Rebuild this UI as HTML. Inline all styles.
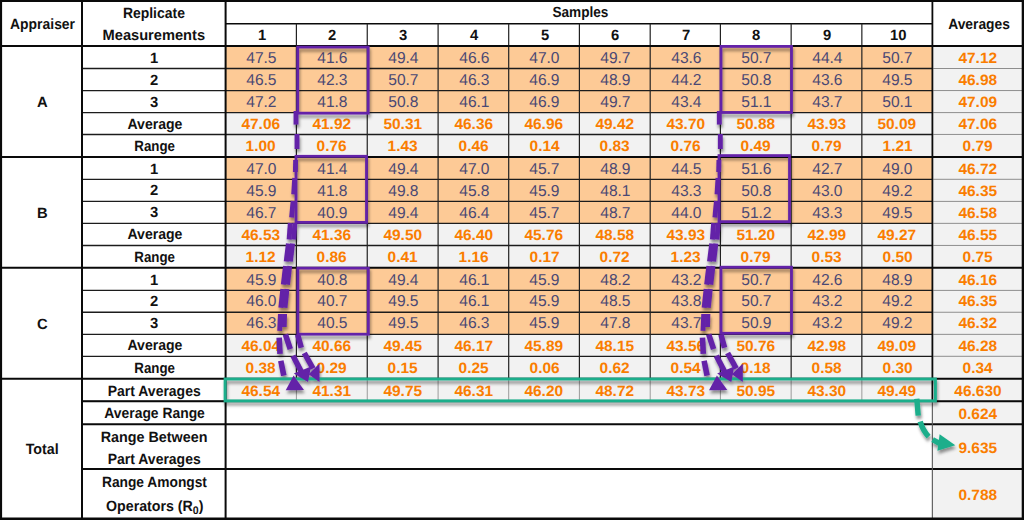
<!DOCTYPE html>
<html><head><meta charset="utf-8"><title>Gage R&amp;R table</title>
<style>
html,body{margin:0;padding:0;background:#fff;}
body{width:1024px;height:520px;position:relative;overflow:hidden;font-family:"Liberation Sans",sans-serif;font-size:14.8px;}
.c{position:absolute;text-align:center;white-space:nowrap;box-sizing:border-box;overflow:visible;}
.h{color:#111;font-weight:bold;}
.c span{display:inline-block;transform:rotate(.03deg);}
.o{background:#fdca96;color:#4a4874;font-size:15.8px;}
.o span{display:inline-block;transform:rotate(.03deg) scaleX(.985);position:relative;left:.6px}
.g{background:#f2f2f2;color:#fa7d00;font-weight:bold;font-size:15.0px;}
.g span{display:inline-block;transform:rotate(.03deg) scaleX(1.03);position:relative;left:.1px}
sub{font-size:11px;vertical-align:baseline;position:relative;top:2.6px;line-height:0;}
svg{position:absolute;left:0;top:0;}
</style></head><body>
<div class="c h" style="left:2px;top:0px;width:81px;height:46px;line-height:48.2px"><span class="s" id="L_appraiser" style="transform:rotate(.03deg) scaleX(0.9404)">Appraiser</span></div>
<div class="c h" style="left:82px;top:0px;width:143.6px;height:25.25px;line-height:27.65px"><span class="s" id="L_replicate" style="transform:rotate(.03deg) scaleX(0.9421)">Replicate</span></div>
<div class="c h" style="left:82px;top:22.25px;width:143.6px;height:23.75px;line-height:27.35px"><span class="s" id="L_measurements" style="transform:rotate(.03deg) scaleX(0.9890)">Measurements</span></div>
<div class="c h" style="left:226.8px;top:0px;width:706.65px;height:23.75px;line-height:24.75px"><span class="s" id="L_samples" style="transform:rotate(.03deg) scaleX(0.9197)">Samples</span></div>
<div class="c h" style="left:226.3px;top:23.75px;width:70.8px;height:22.25px;line-height:22.45px"><span>1</span></div>
<div class="c h" style="left:297.1px;top:23.75px;width:70.85px;height:22.25px;line-height:22.45px"><span>2</span></div>
<div class="c h" style="left:367.95px;top:23.75px;width:70.85px;height:22.25px;line-height:22.45px"><span>3</span></div>
<div class="c h" style="left:438.8px;top:23.75px;width:70.6px;height:22.25px;line-height:22.45px"><span>4</span></div>
<div class="c h" style="left:509.4px;top:23.75px;width:70.7px;height:22.25px;line-height:22.45px"><span>5</span></div>
<div class="c h" style="left:580.1px;top:23.75px;width:70.8px;height:22.25px;line-height:22.45px"><span>6</span></div>
<div class="c h" style="left:650.9px;top:23.75px;width:70.2px;height:22.25px;line-height:22.45px"><span>7</span></div>
<div class="c h" style="left:721.1px;top:23.75px;width:70.75px;height:22.25px;line-height:22.45px"><span>8</span></div>
<div class="c h" style="left:791.85px;top:23.75px;width:70.7px;height:22.25px;line-height:22.45px"><span>9</span></div>
<div class="c h" style="left:862.55px;top:23.75px;width:70.4px;height:22.25px;line-height:22.45px"><span>10</span></div>
<div class="c h" style="left:933.65px;top:0px;width:90.25px;height:46px;line-height:48.2px"><span class="s" id="L_averages" style="transform:rotate(.03deg) scaleX(0.9339)">Averages</span></div>
<div class="c h" style="left:2px;top:46px;width:81px;height:110.9px;line-height:112.7px"><span>A</span></div>
<div class="c h" style="left:82px;top:46px;width:143.6px;height:22.5px;line-height:24.3px"><span>1</span></div>
<div class="c o" style="left:225.6px;top:46px;width:70.8px;height:22.5px;line-height:24.3px"><span>47.5</span></div>
<div class="c o" style="left:296.4px;top:46px;width:70.85px;height:22.5px;line-height:24.3px"><span>41.6</span></div>
<div class="c o" style="left:367.25px;top:46px;width:70.85px;height:22.5px;line-height:24.3px"><span>49.4</span></div>
<div class="c o" style="left:438.1px;top:46px;width:70.6px;height:22.5px;line-height:24.3px"><span>46.6</span></div>
<div class="c o" style="left:508.7px;top:46px;width:70.7px;height:22.5px;line-height:24.3px"><span>47.0</span></div>
<div class="c o" style="left:579.4px;top:46px;width:70.8px;height:22.5px;line-height:24.3px"><span>49.7</span></div>
<div class="c o" style="left:650.2px;top:46px;width:70.2px;height:22.5px;line-height:24.3px"><span>43.6</span></div>
<div class="c o" style="left:720.4px;top:46px;width:70.75px;height:22.5px;line-height:24.3px"><span>50.7</span></div>
<div class="c o" style="left:791.15px;top:46px;width:70.7px;height:22.5px;line-height:24.3px"><span>44.4</span></div>
<div class="c o" style="left:861.85px;top:46px;width:70.4px;height:22.5px;line-height:24.3px"><span>50.7</span></div>
<div class="c g" style="left:932.85px;top:46px;width:90.25px;height:22.5px;line-height:24.3px"><span>47.12</span></div>
<div class="c h" style="left:82px;top:68.5px;width:143.6px;height:22.05px;line-height:23.85px"><span>2</span></div>
<div class="c o" style="left:225.6px;top:68.5px;width:70.8px;height:22.05px;line-height:22.85px"><span>46.5</span></div>
<div class="c o" style="left:296.4px;top:68.5px;width:70.85px;height:22.05px;line-height:22.85px"><span>42.3</span></div>
<div class="c o" style="left:367.25px;top:68.5px;width:70.85px;height:22.05px;line-height:22.85px"><span>50.7</span></div>
<div class="c o" style="left:438.1px;top:68.5px;width:70.6px;height:22.05px;line-height:22.85px"><span>46.3</span></div>
<div class="c o" style="left:508.7px;top:68.5px;width:70.7px;height:22.05px;line-height:22.85px"><span>46.9</span></div>
<div class="c o" style="left:579.4px;top:68.5px;width:70.8px;height:22.05px;line-height:22.85px"><span>48.9</span></div>
<div class="c o" style="left:650.2px;top:68.5px;width:70.2px;height:22.05px;line-height:22.85px"><span>44.2</span></div>
<div class="c o" style="left:720.4px;top:68.5px;width:70.75px;height:22.05px;line-height:22.85px"><span>50.8</span></div>
<div class="c o" style="left:791.15px;top:68.5px;width:70.7px;height:22.05px;line-height:22.85px"><span>43.6</span></div>
<div class="c o" style="left:861.85px;top:68.5px;width:70.4px;height:22.05px;line-height:22.85px"><span>49.5</span></div>
<div class="c g" style="left:932.85px;top:68.5px;width:90.25px;height:22.05px;line-height:22.85px"><span>46.98</span></div>
<div class="c h" style="left:82px;top:90.55px;width:143.6px;height:22.05px;line-height:23.85px"><span>3</span></div>
<div class="c o" style="left:225.6px;top:90.55px;width:70.8px;height:22.05px;line-height:22.85px"><span>47.2</span></div>
<div class="c o" style="left:296.4px;top:90.55px;width:70.85px;height:22.05px;line-height:22.85px"><span>41.8</span></div>
<div class="c o" style="left:367.25px;top:90.55px;width:70.85px;height:22.05px;line-height:22.85px"><span>50.8</span></div>
<div class="c o" style="left:438.1px;top:90.55px;width:70.6px;height:22.05px;line-height:22.85px"><span>46.1</span></div>
<div class="c o" style="left:508.7px;top:90.55px;width:70.7px;height:22.05px;line-height:22.85px"><span>46.9</span></div>
<div class="c o" style="left:579.4px;top:90.55px;width:70.8px;height:22.05px;line-height:22.85px"><span>49.7</span></div>
<div class="c o" style="left:650.2px;top:90.55px;width:70.2px;height:22.05px;line-height:22.85px"><span>43.4</span></div>
<div class="c o" style="left:720.4px;top:90.55px;width:70.75px;height:22.05px;line-height:22.85px"><span>51.1</span></div>
<div class="c o" style="left:791.15px;top:90.55px;width:70.7px;height:22.05px;line-height:22.85px"><span>43.7</span></div>
<div class="c o" style="left:861.85px;top:90.55px;width:70.4px;height:22.05px;line-height:22.85px"><span>50.1</span></div>
<div class="c g" style="left:932.85px;top:90.55px;width:90.25px;height:22.05px;line-height:22.85px"><span>47.09</span></div>
<div class="c h" style="left:82.8px;top:112.6px;width:143.6px;height:21.85px;line-height:23.65px"><span class="s" id="L_average" style="transform:rotate(.03deg) scaleX(0.9504)">Average</span></div>
<div class="c g" style="left:225.6px;top:112.6px;width:70.8px;height:21.85px;line-height:22.65px"><span>47.06</span></div>
<div class="c g" style="left:296.4px;top:112.6px;width:70.85px;height:21.85px;line-height:22.65px"><span>41.92</span></div>
<div class="c g" style="left:367.25px;top:112.6px;width:70.85px;height:21.85px;line-height:22.65px"><span>50.31</span></div>
<div class="c g" style="left:438.1px;top:112.6px;width:70.6px;height:21.85px;line-height:22.65px"><span>46.36</span></div>
<div class="c g" style="left:508.7px;top:112.6px;width:70.7px;height:21.85px;line-height:22.65px"><span>46.96</span></div>
<div class="c g" style="left:579.4px;top:112.6px;width:70.8px;height:21.85px;line-height:22.65px"><span>49.42</span></div>
<div class="c g" style="left:650.2px;top:112.6px;width:70.2px;height:21.85px;line-height:22.65px"><span>43.70</span></div>
<div class="c g" style="left:720.4px;top:112.6px;width:70.75px;height:21.85px;line-height:22.65px"><span>50.88</span></div>
<div class="c g" style="left:791.15px;top:112.6px;width:70.7px;height:21.85px;line-height:22.65px"><span>43.93</span></div>
<div class="c g" style="left:861.85px;top:112.6px;width:70.4px;height:21.85px;line-height:22.65px"><span>50.09</span></div>
<div class="c g" style="left:932.85px;top:112.6px;width:90.25px;height:21.85px;line-height:22.65px"><span>47.06</span></div>
<div class="c h" style="left:82.8px;top:134.45px;width:143.6px;height:22.45px;line-height:24.25px"><span class="s" id="L_range" style="transform:rotate(.03deg) scaleX(0.8995)">Range</span></div>
<div class="c g" style="left:225.6px;top:134.45px;width:70.8px;height:22.45px;line-height:24.25px"><span>1.00</span></div>
<div class="c g" style="left:296.4px;top:134.45px;width:70.85px;height:22.45px;line-height:24.25px"><span>0.76</span></div>
<div class="c g" style="left:367.25px;top:134.45px;width:70.85px;height:22.45px;line-height:24.25px"><span>1.43</span></div>
<div class="c g" style="left:438.1px;top:134.45px;width:70.6px;height:22.45px;line-height:24.25px"><span>0.46</span></div>
<div class="c g" style="left:508.7px;top:134.45px;width:70.7px;height:22.45px;line-height:24.25px"><span>0.14</span></div>
<div class="c g" style="left:579.4px;top:134.45px;width:70.8px;height:22.45px;line-height:24.25px"><span>0.83</span></div>
<div class="c g" style="left:650.2px;top:134.45px;width:70.2px;height:22.45px;line-height:24.25px"><span>0.76</span></div>
<div class="c g" style="left:720.4px;top:134.45px;width:70.75px;height:22.45px;line-height:24.25px"><span>0.49</span></div>
<div class="c g" style="left:791.15px;top:134.45px;width:70.7px;height:22.45px;line-height:24.25px"><span>0.79</span></div>
<div class="c g" style="left:861.85px;top:134.45px;width:70.4px;height:22.45px;line-height:24.25px"><span>1.21</span></div>
<div class="c g" style="left:932.85px;top:134.45px;width:90.25px;height:22.45px;line-height:24.25px"><span>0.79</span></div>
<div class="c h" style="left:2px;top:156.9px;width:81px;height:110.9px;line-height:112.7px"><span>B</span></div>
<div class="c h" style="left:82px;top:156.9px;width:143.6px;height:22.4px;line-height:24.2px"><span>1</span></div>
<div class="c o" style="left:225.6px;top:156.9px;width:70.8px;height:22.4px;line-height:24.2px"><span>47.0</span></div>
<div class="c o" style="left:296.4px;top:156.9px;width:70.85px;height:22.4px;line-height:24.2px"><span>41.4</span></div>
<div class="c o" style="left:367.25px;top:156.9px;width:70.85px;height:22.4px;line-height:24.2px"><span>49.4</span></div>
<div class="c o" style="left:438.1px;top:156.9px;width:70.6px;height:22.4px;line-height:24.2px"><span>47.0</span></div>
<div class="c o" style="left:508.7px;top:156.9px;width:70.7px;height:22.4px;line-height:24.2px"><span>45.7</span></div>
<div class="c o" style="left:579.4px;top:156.9px;width:70.8px;height:22.4px;line-height:24.2px"><span>48.9</span></div>
<div class="c o" style="left:650.2px;top:156.9px;width:70.2px;height:22.4px;line-height:24.2px"><span>44.5</span></div>
<div class="c o" style="left:720.4px;top:156.9px;width:70.75px;height:22.4px;line-height:24.2px"><span>51.6</span></div>
<div class="c o" style="left:791.15px;top:156.9px;width:70.7px;height:22.4px;line-height:24.2px"><span>42.7</span></div>
<div class="c o" style="left:861.85px;top:156.9px;width:70.4px;height:22.4px;line-height:24.2px"><span>49.0</span></div>
<div class="c g" style="left:932.85px;top:156.9px;width:90.25px;height:22.4px;line-height:24.2px"><span>46.72</span></div>
<div class="c h" style="left:82px;top:179.3px;width:143.6px;height:22.1px;line-height:23.9px"><span>2</span></div>
<div class="c o" style="left:225.6px;top:179.3px;width:70.8px;height:22.1px;line-height:23.9px"><span>45.9</span></div>
<div class="c o" style="left:296.4px;top:179.3px;width:70.85px;height:22.1px;line-height:23.9px"><span>41.8</span></div>
<div class="c o" style="left:367.25px;top:179.3px;width:70.85px;height:22.1px;line-height:23.9px"><span>49.8</span></div>
<div class="c o" style="left:438.1px;top:179.3px;width:70.6px;height:22.1px;line-height:23.9px"><span>45.8</span></div>
<div class="c o" style="left:508.7px;top:179.3px;width:70.7px;height:22.1px;line-height:23.9px"><span>45.9</span></div>
<div class="c o" style="left:579.4px;top:179.3px;width:70.8px;height:22.1px;line-height:23.9px"><span>48.1</span></div>
<div class="c o" style="left:650.2px;top:179.3px;width:70.2px;height:22.1px;line-height:23.9px"><span>43.3</span></div>
<div class="c o" style="left:720.4px;top:179.3px;width:70.75px;height:22.1px;line-height:23.9px"><span>50.8</span></div>
<div class="c o" style="left:791.15px;top:179.3px;width:70.7px;height:22.1px;line-height:23.9px"><span>43.0</span></div>
<div class="c o" style="left:861.85px;top:179.3px;width:70.4px;height:22.1px;line-height:23.9px"><span>49.2</span></div>
<div class="c g" style="left:932.85px;top:179.3px;width:90.25px;height:22.1px;line-height:23.9px"><span>46.35</span></div>
<div class="c h" style="left:82px;top:201.4px;width:143.6px;height:21.95px;line-height:23.75px"><span>3</span></div>
<div class="c o" style="left:225.6px;top:201.4px;width:70.8px;height:21.95px;line-height:23.75px"><span>46.7</span></div>
<div class="c o" style="left:296.4px;top:201.4px;width:70.85px;height:21.95px;line-height:23.75px"><span>40.9</span></div>
<div class="c o" style="left:367.25px;top:201.4px;width:70.85px;height:21.95px;line-height:23.75px"><span>49.4</span></div>
<div class="c o" style="left:438.1px;top:201.4px;width:70.6px;height:21.95px;line-height:23.75px"><span>46.4</span></div>
<div class="c o" style="left:508.7px;top:201.4px;width:70.7px;height:21.95px;line-height:23.75px"><span>45.7</span></div>
<div class="c o" style="left:579.4px;top:201.4px;width:70.8px;height:21.95px;line-height:23.75px"><span>48.7</span></div>
<div class="c o" style="left:650.2px;top:201.4px;width:70.2px;height:21.95px;line-height:23.75px"><span>44.0</span></div>
<div class="c o" style="left:720.4px;top:201.4px;width:70.75px;height:21.95px;line-height:23.75px"><span>51.2</span></div>
<div class="c o" style="left:791.15px;top:201.4px;width:70.7px;height:21.95px;line-height:23.75px"><span>43.3</span></div>
<div class="c o" style="left:861.85px;top:201.4px;width:70.4px;height:21.95px;line-height:23.75px"><span>49.5</span></div>
<div class="c g" style="left:932.85px;top:201.4px;width:90.25px;height:21.95px;line-height:23.75px"><span>46.58</span></div>
<div class="c h" style="left:82.8px;top:223.35px;width:143.6px;height:22.1px;line-height:23.9px"><span class="s" id="L_average" style="transform:rotate(.03deg) scaleX(0.9504)">Average</span></div>
<div class="c g" style="left:225.6px;top:223.35px;width:70.8px;height:22.1px;line-height:23.9px"><span>46.53</span></div>
<div class="c g" style="left:296.4px;top:223.35px;width:70.85px;height:22.1px;line-height:23.9px"><span>41.36</span></div>
<div class="c g" style="left:367.25px;top:223.35px;width:70.85px;height:22.1px;line-height:23.9px"><span>49.50</span></div>
<div class="c g" style="left:438.1px;top:223.35px;width:70.6px;height:22.1px;line-height:23.9px"><span>46.40</span></div>
<div class="c g" style="left:508.7px;top:223.35px;width:70.7px;height:22.1px;line-height:23.9px"><span>45.76</span></div>
<div class="c g" style="left:579.4px;top:223.35px;width:70.8px;height:22.1px;line-height:23.9px"><span>48.58</span></div>
<div class="c g" style="left:650.2px;top:223.35px;width:70.2px;height:22.1px;line-height:23.9px"><span>43.93</span></div>
<div class="c g" style="left:720.4px;top:223.35px;width:70.75px;height:22.1px;line-height:23.9px"><span>51.20</span></div>
<div class="c g" style="left:791.15px;top:223.35px;width:70.7px;height:22.1px;line-height:23.9px"><span>42.99</span></div>
<div class="c g" style="left:861.85px;top:223.35px;width:70.4px;height:22.1px;line-height:23.9px"><span>49.27</span></div>
<div class="c g" style="left:932.85px;top:223.35px;width:90.25px;height:22.1px;line-height:23.9px"><span>46.55</span></div>
<div class="c h" style="left:82.8px;top:245.45px;width:143.6px;height:22.35px;line-height:24.15px"><span class="s" id="L_range" style="transform:rotate(.03deg) scaleX(0.8995)">Range</span></div>
<div class="c g" style="left:225.6px;top:245.45px;width:70.8px;height:22.35px;line-height:24.15px"><span>1.12</span></div>
<div class="c g" style="left:296.4px;top:245.45px;width:70.85px;height:22.35px;line-height:24.15px"><span>0.86</span></div>
<div class="c g" style="left:367.25px;top:245.45px;width:70.85px;height:22.35px;line-height:24.15px"><span>0.41</span></div>
<div class="c g" style="left:438.1px;top:245.45px;width:70.6px;height:22.35px;line-height:24.15px"><span>1.16</span></div>
<div class="c g" style="left:508.7px;top:245.45px;width:70.7px;height:22.35px;line-height:24.15px"><span>0.17</span></div>
<div class="c g" style="left:579.4px;top:245.45px;width:70.8px;height:22.35px;line-height:24.15px"><span>0.72</span></div>
<div class="c g" style="left:650.2px;top:245.45px;width:70.2px;height:22.35px;line-height:24.15px"><span>1.23</span></div>
<div class="c g" style="left:720.4px;top:245.45px;width:70.75px;height:22.35px;line-height:24.15px"><span>0.79</span></div>
<div class="c g" style="left:791.15px;top:245.45px;width:70.7px;height:22.35px;line-height:24.15px"><span>0.53</span></div>
<div class="c g" style="left:861.85px;top:245.45px;width:70.4px;height:22.35px;line-height:24.15px"><span>0.50</span></div>
<div class="c g" style="left:932.85px;top:245.45px;width:90.25px;height:22.35px;line-height:24.15px"><span>0.75</span></div>
<div class="c h" style="left:2px;top:267.8px;width:81px;height:111px;line-height:112.8px"><span>C</span></div>
<div class="c h" style="left:82px;top:267.8px;width:143.6px;height:22.6px;line-height:24.4px"><span>1</span></div>
<div class="c o" style="left:225.6px;top:267.8px;width:70.8px;height:22.6px;line-height:24.4px"><span>45.9</span></div>
<div class="c o" style="left:296.4px;top:267.8px;width:70.85px;height:22.6px;line-height:24.4px"><span>40.8</span></div>
<div class="c o" style="left:367.25px;top:267.8px;width:70.85px;height:22.6px;line-height:24.4px"><span>49.4</span></div>
<div class="c o" style="left:438.1px;top:267.8px;width:70.6px;height:22.6px;line-height:24.4px"><span>46.1</span></div>
<div class="c o" style="left:508.7px;top:267.8px;width:70.7px;height:22.6px;line-height:24.4px"><span>45.9</span></div>
<div class="c o" style="left:579.4px;top:267.8px;width:70.8px;height:22.6px;line-height:24.4px"><span>48.2</span></div>
<div class="c o" style="left:650.2px;top:267.8px;width:70.2px;height:22.6px;line-height:24.4px"><span>43.2</span></div>
<div class="c o" style="left:720.4px;top:267.8px;width:70.75px;height:22.6px;line-height:24.4px"><span>50.7</span></div>
<div class="c o" style="left:791.15px;top:267.8px;width:70.7px;height:22.6px;line-height:24.4px"><span>42.6</span></div>
<div class="c o" style="left:861.85px;top:267.8px;width:70.4px;height:22.6px;line-height:24.4px"><span>48.9</span></div>
<div class="c g" style="left:932.85px;top:267.8px;width:90.25px;height:22.6px;line-height:24.4px"><span>46.16</span></div>
<div class="c h" style="left:82px;top:290.4px;width:143.6px;height:21.85px;line-height:23.65px"><span>2</span></div>
<div class="c o" style="left:225.6px;top:290.4px;width:70.8px;height:21.85px;line-height:22.65px"><span>46.0</span></div>
<div class="c o" style="left:296.4px;top:290.4px;width:70.85px;height:21.85px;line-height:22.65px"><span>40.7</span></div>
<div class="c o" style="left:367.25px;top:290.4px;width:70.85px;height:21.85px;line-height:22.65px"><span>49.5</span></div>
<div class="c o" style="left:438.1px;top:290.4px;width:70.6px;height:21.85px;line-height:22.65px"><span>46.1</span></div>
<div class="c o" style="left:508.7px;top:290.4px;width:70.7px;height:21.85px;line-height:22.65px"><span>45.9</span></div>
<div class="c o" style="left:579.4px;top:290.4px;width:70.8px;height:21.85px;line-height:22.65px"><span>48.5</span></div>
<div class="c o" style="left:650.2px;top:290.4px;width:70.2px;height:21.85px;line-height:22.65px"><span>43.8</span></div>
<div class="c o" style="left:720.4px;top:290.4px;width:70.75px;height:21.85px;line-height:22.65px"><span>50.7</span></div>
<div class="c o" style="left:791.15px;top:290.4px;width:70.7px;height:21.85px;line-height:22.65px"><span>43.2</span></div>
<div class="c o" style="left:861.85px;top:290.4px;width:70.4px;height:21.85px;line-height:22.65px"><span>49.2</span></div>
<div class="c g" style="left:932.85px;top:290.4px;width:90.25px;height:21.85px;line-height:22.65px"><span>46.35</span></div>
<div class="c h" style="left:82px;top:312.25px;width:143.6px;height:22.1px;line-height:23.9px"><span>3</span></div>
<div class="c o" style="left:225.6px;top:312.25px;width:70.8px;height:22.1px;line-height:22.9px"><span>46.3</span></div>
<div class="c o" style="left:296.4px;top:312.25px;width:70.85px;height:22.1px;line-height:22.9px"><span>40.5</span></div>
<div class="c o" style="left:367.25px;top:312.25px;width:70.85px;height:22.1px;line-height:22.9px"><span>49.5</span></div>
<div class="c o" style="left:438.1px;top:312.25px;width:70.6px;height:22.1px;line-height:22.9px"><span>46.3</span></div>
<div class="c o" style="left:508.7px;top:312.25px;width:70.7px;height:22.1px;line-height:22.9px"><span>45.9</span></div>
<div class="c o" style="left:579.4px;top:312.25px;width:70.8px;height:22.1px;line-height:22.9px"><span>47.8</span></div>
<div class="c o" style="left:650.2px;top:312.25px;width:70.2px;height:22.1px;line-height:22.9px"><span>43.7</span></div>
<div class="c o" style="left:720.4px;top:312.25px;width:70.75px;height:22.1px;line-height:22.9px"><span>50.9</span></div>
<div class="c o" style="left:791.15px;top:312.25px;width:70.7px;height:22.1px;line-height:22.9px"><span>43.2</span></div>
<div class="c o" style="left:861.85px;top:312.25px;width:70.4px;height:22.1px;line-height:22.9px"><span>49.2</span></div>
<div class="c g" style="left:932.85px;top:312.25px;width:90.25px;height:22.1px;line-height:22.9px"><span>46.32</span></div>
<div class="c h" style="left:82.8px;top:334.35px;width:143.6px;height:21.95px;line-height:23.75px"><span class="s" id="L_average" style="transform:rotate(.03deg) scaleX(0.9504)">Average</span></div>
<div class="c g" style="left:225.6px;top:334.35px;width:70.8px;height:21.95px;line-height:23.75px"><span>46.04</span></div>
<div class="c g" style="left:296.4px;top:334.35px;width:70.85px;height:21.95px;line-height:23.75px"><span>40.66</span></div>
<div class="c g" style="left:367.25px;top:334.35px;width:70.85px;height:21.95px;line-height:23.75px"><span>49.45</span></div>
<div class="c g" style="left:438.1px;top:334.35px;width:70.6px;height:21.95px;line-height:23.75px"><span>46.17</span></div>
<div class="c g" style="left:508.7px;top:334.35px;width:70.7px;height:21.95px;line-height:23.75px"><span>45.89</span></div>
<div class="c g" style="left:579.4px;top:334.35px;width:70.8px;height:21.95px;line-height:23.75px"><span>48.15</span></div>
<div class="c g" style="left:650.2px;top:334.35px;width:70.2px;height:21.95px;line-height:23.75px"><span>43.56</span></div>
<div class="c g" style="left:720.4px;top:334.35px;width:70.75px;height:21.95px;line-height:23.75px"><span>50.76</span></div>
<div class="c g" style="left:791.15px;top:334.35px;width:70.7px;height:21.95px;line-height:23.75px"><span>42.98</span></div>
<div class="c g" style="left:861.85px;top:334.35px;width:70.4px;height:21.95px;line-height:23.75px"><span>49.09</span></div>
<div class="c g" style="left:932.85px;top:334.35px;width:90.25px;height:21.95px;line-height:23.75px"><span>46.28</span></div>
<div class="c h" style="left:82.8px;top:356.3px;width:143.6px;height:22.5px;line-height:24.3px"><span class="s" id="L_range" style="transform:rotate(.03deg) scaleX(0.8995)">Range</span></div>
<div class="c g" style="left:225.6px;top:356.3px;width:70.8px;height:22.5px;line-height:24.3px"><span>0.38</span></div>
<div class="c g" style="left:296.4px;top:356.3px;width:70.85px;height:22.5px;line-height:24.3px"><span>0.29</span></div>
<div class="c g" style="left:367.25px;top:356.3px;width:70.85px;height:22.5px;line-height:24.3px"><span>0.15</span></div>
<div class="c g" style="left:438.1px;top:356.3px;width:70.6px;height:22.5px;line-height:24.3px"><span>0.25</span></div>
<div class="c g" style="left:508.7px;top:356.3px;width:70.7px;height:22.5px;line-height:24.3px"><span>0.06</span></div>
<div class="c g" style="left:579.4px;top:356.3px;width:70.8px;height:22.5px;line-height:24.3px"><span>0.62</span></div>
<div class="c g" style="left:650.2px;top:356.3px;width:70.2px;height:22.5px;line-height:24.3px"><span>0.54</span></div>
<div class="c g" style="left:720.4px;top:356.3px;width:70.75px;height:22.5px;line-height:24.3px"><span>0.18</span></div>
<div class="c g" style="left:791.15px;top:356.3px;width:70.7px;height:22.5px;line-height:24.3px"><span>0.58</span></div>
<div class="c g" style="left:861.85px;top:356.3px;width:70.4px;height:22.5px;line-height:24.3px"><span>0.30</span></div>
<div class="c g" style="left:932.85px;top:356.3px;width:90.25px;height:22.5px;line-height:24.3px"><span>0.34</span></div>
<div class="c h" style="left:2px;top:378.8px;width:81px;height:139.7px;line-height:141.5px"><span class="s" id="L_total" style="transform:rotate(.03deg) scaleX(0.9614)">Total</span></div>
<div class="c h" style="left:82.7px;top:378.8px;width:143.6px;height:22.5px;line-height:24.1px"><span class="s" id="L_partavg" style="transform:rotate(.03deg) scaleX(0.9446)">Part Averages</span></div>
<div class="c g" style="left:225.6px;top:378.8px;width:70.8px;height:22.5px;line-height:23.3px"><span>46.54</span></div>
<div class="c g" style="left:296.4px;top:378.8px;width:70.85px;height:22.5px;line-height:23.3px"><span>41.31</span></div>
<div class="c g" style="left:367.25px;top:378.8px;width:70.85px;height:22.5px;line-height:23.3px"><span>49.75</span></div>
<div class="c g" style="left:438.1px;top:378.8px;width:70.6px;height:22.5px;line-height:23.3px"><span>46.31</span></div>
<div class="c g" style="left:508.7px;top:378.8px;width:70.7px;height:22.5px;line-height:23.3px"><span>46.20</span></div>
<div class="c g" style="left:579.4px;top:378.8px;width:70.8px;height:22.5px;line-height:23.3px"><span>48.72</span></div>
<div class="c g" style="left:650.2px;top:378.8px;width:70.2px;height:22.5px;line-height:23.3px"><span>43.73</span></div>
<div class="c g" style="left:720.4px;top:378.8px;width:70.75px;height:22.5px;line-height:23.3px"><span>50.95</span></div>
<div class="c g" style="left:791.15px;top:378.8px;width:70.7px;height:22.5px;line-height:23.3px"><span>43.30</span></div>
<div class="c g" style="left:861.85px;top:378.8px;width:70.4px;height:22.5px;line-height:23.3px"><span>49.49</span></div>
<div class="c g" style="left:932.25px;top:378.8px;width:90.25px;height:22.5px;line-height:23.3px"><span>46.630</span></div>
<div class="c h" style="left:82.8px;top:401.3px;width:143.6px;height:22.95px;line-height:25.35px"><span class="s" id="L_avgrange" style="transform:rotate(.03deg) scaleX(0.9375)">Average Range</span></div>
<div class="c g" style="left:932.85px;top:401.3px;width:90.25px;height:22.95px;line-height:25.55px"><span>0.624</span></div>
<div class="c h" style="left:82.4px;top:424.45px;width:143.6px;height:23px;line-height:26.4px"><span class="s" id="L_rangebetween" style="transform:rotate(.03deg) scaleX(0.9687)">Range Between</span></div>
<div class="c h" style="left:82.7px;top:446.95px;width:143.6px;height:21.25px;line-height:25.05px"><span class="s" id="L_partavg2" style="transform:rotate(.03deg) scaleX(0.9446)">Part Averages</span></div>
<div class="c g" style="left:932.85px;top:424.25px;width:90.25px;height:44.75px;line-height:47.15px"><span>9.635</span></div>
<div class="c h" style="left:82.5px;top:469.2px;width:143.6px;height:23px;line-height:26.2px"><span class="s" id="L_rangeamongst" style="transform:rotate(.03deg) scaleX(0.9299)">Range Amongst</span></div>
<div class="c h" style="left:82.8px;top:493px;width:143.6px;height:24.5px;line-height:26.9px"><span class="s" id="L_operators" style="transform:rotate(.03deg) scaleX(0.9603)">Operators (R<sub>0</sub>)</span></div>
<div class="c g" style="left:932.85px;top:469px;width:90.25px;height:49.5px;line-height:51.5px"><span>0.788</span></div>
<svg width="1024" height="520" viewBox="0 0 1024 520">
<line x1="82" y1="68.5" x2="932.25" y2="68.5" stroke="#1c1c1c" stroke-width="1.35"/>
<line x1="933.25" y1="68.5" x2="1022.5" y2="68.5" stroke="#8e8e8e" stroke-width="1"/>
<line x1="82" y1="90.55" x2="932.25" y2="90.55" stroke="#1c1c1c" stroke-width="1.35"/>
<line x1="933.25" y1="90.55" x2="1022.5" y2="90.55" stroke="#8e8e8e" stroke-width="1"/>
<line x1="82" y1="112.6" x2="932.25" y2="112.6" stroke="#1c1c1c" stroke-width="1.35"/>
<line x1="933.25" y1="112.6" x2="1022.5" y2="112.6" stroke="#8e8e8e" stroke-width="1"/>
<line x1="82" y1="134.45" x2="932.25" y2="134.45" stroke="#1c1c1c" stroke-width="1.35"/>
<line x1="933.25" y1="134.45" x2="1022.5" y2="134.45" stroke="#8e8e8e" stroke-width="1"/>
<line x1="82" y1="179.3" x2="932.25" y2="179.3" stroke="#1c1c1c" stroke-width="1.35"/>
<line x1="933.25" y1="179.3" x2="1022.5" y2="179.3" stroke="#8e8e8e" stroke-width="1"/>
<line x1="82" y1="201.4" x2="932.25" y2="201.4" stroke="#1c1c1c" stroke-width="1.35"/>
<line x1="933.25" y1="201.4" x2="1022.5" y2="201.4" stroke="#8e8e8e" stroke-width="1"/>
<line x1="82" y1="223.35" x2="932.25" y2="223.35" stroke="#1c1c1c" stroke-width="1.35"/>
<line x1="933.25" y1="223.35" x2="1022.5" y2="223.35" stroke="#8e8e8e" stroke-width="1"/>
<line x1="82" y1="245.45" x2="932.25" y2="245.45" stroke="#1c1c1c" stroke-width="1.35"/>
<line x1="933.25" y1="245.45" x2="1022.5" y2="245.45" stroke="#8e8e8e" stroke-width="1"/>
<line x1="82" y1="290.4" x2="932.25" y2="290.4" stroke="#1c1c1c" stroke-width="1.35"/>
<line x1="933.25" y1="290.4" x2="1022.5" y2="290.4" stroke="#8e8e8e" stroke-width="1"/>
<line x1="82" y1="312.25" x2="932.25" y2="312.25" stroke="#1c1c1c" stroke-width="1.35"/>
<line x1="933.25" y1="312.25" x2="1022.5" y2="312.25" stroke="#8e8e8e" stroke-width="1"/>
<line x1="82" y1="334.35" x2="932.25" y2="334.35" stroke="#1c1c1c" stroke-width="1.35"/>
<line x1="933.25" y1="334.35" x2="1022.5" y2="334.35" stroke="#8e8e8e" stroke-width="1"/>
<line x1="82" y1="356.3" x2="932.25" y2="356.3" stroke="#1c1c1c" stroke-width="1.35"/>
<line x1="933.25" y1="356.3" x2="1022.5" y2="356.3" stroke="#8e8e8e" stroke-width="1"/>
<line x1="82" y1="401.3" x2="932.25" y2="401.3" stroke="#1c1c1c" stroke-width="1.35"/>
<line x1="933.25" y1="401.3" x2="1022.5" y2="401.3" stroke="#8e8e8e" stroke-width="1"/>
<line x1="82" y1="401.3" x2="1022.5" y2="401.3" stroke="#0a0a0a" stroke-width="1.9"/>
<line x1="82" y1="424.25" x2="1022.5" y2="424.25" stroke="#0a0a0a" stroke-width="1.9"/>
<line x1="82" y1="469" x2="1022.5" y2="469" stroke="#0a0a0a" stroke-width="1.9"/>
<line x1="225.6" y1="23.75" x2="932.25" y2="23.75" stroke="#0a0a0a" stroke-width="1.4"/>
<line x1="296.4" y1="23.75" x2="296.4" y2="378.8" stroke="#222" stroke-width="1.2"/>
<line x1="296.4" y1="378.8" x2="296.4" y2="401.3" stroke="#9a9a9a" stroke-width="1"/>
<line x1="367.25" y1="23.75" x2="367.25" y2="378.8" stroke="#222" stroke-width="1.2"/>
<line x1="367.25" y1="378.8" x2="367.25" y2="401.3" stroke="#9a9a9a" stroke-width="1"/>
<line x1="438.1" y1="23.75" x2="438.1" y2="378.8" stroke="#222" stroke-width="1.2"/>
<line x1="438.1" y1="378.8" x2="438.1" y2="401.3" stroke="#9a9a9a" stroke-width="1"/>
<line x1="508.7" y1="23.75" x2="508.7" y2="378.8" stroke="#222" stroke-width="1.2"/>
<line x1="508.7" y1="378.8" x2="508.7" y2="401.3" stroke="#9a9a9a" stroke-width="1"/>
<line x1="579.4" y1="23.75" x2="579.4" y2="378.8" stroke="#222" stroke-width="1.2"/>
<line x1="579.4" y1="378.8" x2="579.4" y2="401.3" stroke="#9a9a9a" stroke-width="1"/>
<line x1="650.2" y1="23.75" x2="650.2" y2="378.8" stroke="#222" stroke-width="1.2"/>
<line x1="650.2" y1="378.8" x2="650.2" y2="401.3" stroke="#9a9a9a" stroke-width="1"/>
<line x1="720.4" y1="23.75" x2="720.4" y2="378.8" stroke="#222" stroke-width="1.2"/>
<line x1="720.4" y1="378.8" x2="720.4" y2="401.3" stroke="#9a9a9a" stroke-width="1"/>
<line x1="791.15" y1="23.75" x2="791.15" y2="378.8" stroke="#222" stroke-width="1.2"/>
<line x1="791.15" y1="378.8" x2="791.15" y2="401.3" stroke="#9a9a9a" stroke-width="1"/>
<line x1="861.85" y1="23.75" x2="861.85" y2="378.8" stroke="#222" stroke-width="1.2"/>
<line x1="861.85" y1="378.8" x2="861.85" y2="401.3" stroke="#9a9a9a" stroke-width="1"/>
<line x1="932.35" y1="401.3" x2="932.35" y2="518.5" stroke="#555" stroke-width="1.1"/>
<line x1="0" y1="46" x2="1024" y2="46" stroke="#0a0a0a" stroke-width="2"/>
<line x1="0" y1="156.9" x2="1024" y2="156.9" stroke="#0a0a0a" stroke-width="2"/>
<line x1="0" y1="267.8" x2="1024" y2="267.8" stroke="#0a0a0a" stroke-width="2"/>
<line x1="0" y1="378.8" x2="1024" y2="378.8" stroke="#0a0a0a" stroke-width="2"/>
<line x1="82" y1="0" x2="82" y2="518.5" stroke="#0a0a0a" stroke-width="2"/>
<line x1="225.6" y1="0" x2="225.6" y2="518.5" stroke="#0a0a0a" stroke-width="2"/>
<line x1="932.4" y1="0" x2="932.4" y2="401.3" stroke="#0a0a0a" stroke-width="1.8"/>
<line x1="0" y1="1" x2="1024" y2="1" stroke="#0a0a0a" stroke-width="2.2"/>
<line x1="1" y1="0" x2="1" y2="520" stroke="#0a0a0a" stroke-width="2.2"/>
<line x1="1022.9" y1="0" x2="1022.9" y2="520" stroke="#0a0a0a" stroke-width="2.4"/>
<line x1="0" y1="518.75" x2="1024" y2="518.75" stroke="#0a0a0a" stroke-width="2.6"/>
<defs><filter id="sh" x="-5%" y="-5%" width="110%" height="112%"><feDropShadow dx="1" dy="3.2" stdDeviation="1.6" flood-color="#000" flood-opacity=".42"/></filter></defs>
<g filter="url(#sh)">
<rect x="225.1" y="379" width="710.3" height="21.85" fill="none" stroke="#1bae8b" stroke-width="2.9"/>
<rect x="297.7" y="47.1" width="70.5" height="66.05" fill="none" stroke="#6424a8" stroke-width="2.8"/>
<rect x="296" y="156.3" width="70.5" height="66.05" fill="none" stroke="#6424a8" stroke-width="2.8"/>
<rect x="297.85" y="268.15" width="70.5" height="66.05" fill="none" stroke="#6424a8" stroke-width="2.8"/>
<g stroke="#6424a8" stroke-width="4.9" fill="none"><line x1="296" y1="111" x2="296" y2="124.6"/><line x1="297" y1="134" x2="297" y2="149"/><line x1="295.6" y1="160" x2="295.4" y2="172"/><line x1="294.7" y1="178" x2="293.7" y2="194.4"/><line x1="293.1" y1="201" x2="291.6" y2="217.5"/><line x1="290.3" y1="223" x2="289.1" y2="239.5"/><line x1="288.4" y1="243.5" x2="286.2" y2="261.5"/><line x1="285.5" y1="266" x2="283.3" y2="284.6"/><line x1="282.8" y1="289" x2="280.8" y2="307.7"/><line x1="280.4" y1="314" x2="279.7" y2="330.8"/><line x1="294.9" y1="223" x2="293.7" y2="239.5"/><line x1="292.6" y1="243.5" x2="290.4" y2="261.5"/><line x1="289.7" y1="266" x2="287.5" y2="284.6"/><line x1="287" y1="289" x2="285" y2="307.7"/><line x1="284.6" y1="314" x2="284.2" y2="327"/></g>
<g stroke="#6424a8" stroke-width="5.6" fill="none"><line x1="279.2" y1="337.7" x2="280" y2="353.8"/><line x1="280.8" y1="360.8" x2="283.8" y2="375.6"/><line x1="285.4" y1="334.4" x2="290.3" y2="349.2"/><line x1="293" y1="355.7" x2="301.2" y2="371.5"/><line x1="297.7" y1="334.6" x2="301.2" y2="347.7"/><line x1="304.3" y1="353" x2="313" y2="368.5"/></g>
<polygon points="293.6,375.6 285.7,390.2 304,389.9" fill="#6424a8"/>
<polygon points="308,382 293.8,373.5 311,366.6" fill="#6424a8"/>
<polygon points="319.5,382 308.6,374.3 319.5,363.4" fill="#6424a8"/>
<rect x="721" y="46.4" width="70.5" height="66.05" fill="none" stroke="#6424a8" stroke-width="2.8"/>
<rect x="719" y="155.6" width="70.5" height="66.05" fill="none" stroke="#6424a8" stroke-width="2.8"/>
<rect x="721" y="267.2" width="70.5" height="66.05" fill="none" stroke="#6424a8" stroke-width="2.8"/>
<g stroke="#6424a8" stroke-width="4.9" fill="none"><line x1="719.3" y1="111" x2="719.3" y2="124.6"/><line x1="720.3" y1="134" x2="720.3" y2="149"/><line x1="718.9" y1="160" x2="718.7" y2="172"/><line x1="718" y1="178" x2="717" y2="194.4"/><line x1="716.4" y1="201" x2="714.9" y2="217.5"/><line x1="713.6" y1="223" x2="712.4" y2="239.5"/><line x1="711.7" y1="243.5" x2="709.5" y2="261.5"/><line x1="708.8" y1="266" x2="706.6" y2="284.6"/><line x1="706.1" y1="289" x2="704.1" y2="307.7"/><line x1="703.7" y1="314" x2="703" y2="330.8"/><line x1="718.2" y1="223" x2="717" y2="239.5"/><line x1="715.9" y1="243.5" x2="713.7" y2="261.5"/><line x1="713" y1="266" x2="710.8" y2="284.6"/><line x1="710.3" y1="289" x2="708.3" y2="307.7"/><line x1="707.9" y1="314" x2="707.5" y2="327"/></g>
<g stroke="#6424a8" stroke-width="5.6" fill="none"><line x1="702.5" y1="337.7" x2="703.3" y2="353.8"/><line x1="704.1" y1="360.8" x2="707.1" y2="375.6"/><line x1="708.7" y1="334.4" x2="713.6" y2="349.2"/><line x1="716.3" y1="355.7" x2="724.5" y2="371.5"/><line x1="721" y1="334.6" x2="724.5" y2="347.7"/><line x1="727.6" y1="353" x2="736.3" y2="368.5"/></g>
<polygon points="716.9,375.6 709,390.2 727.3,389.9" fill="#6424a8"/>
<polygon points="731.3,382 717.1,373.5 734.3,366.6" fill="#6424a8"/>
<polygon points="742.8,382 731.9,374.3 742.8,363.4" fill="#6424a8"/>
<g fill="none" stroke="#1bae8b" stroke-width="5.4"><path d="M916.8,398.8 L918.2,415.6"/><path d="M920.2,421.6 Q922.8,430.5 928.6,436.6"/><path d="M932.6,439.6 L939.5,443.3"/></g>
<polygon points="939.6,434.2 955.3,445.3 937.4,450.8" fill="#1bae8b"/>
</g>
</svg>
</body></html>
